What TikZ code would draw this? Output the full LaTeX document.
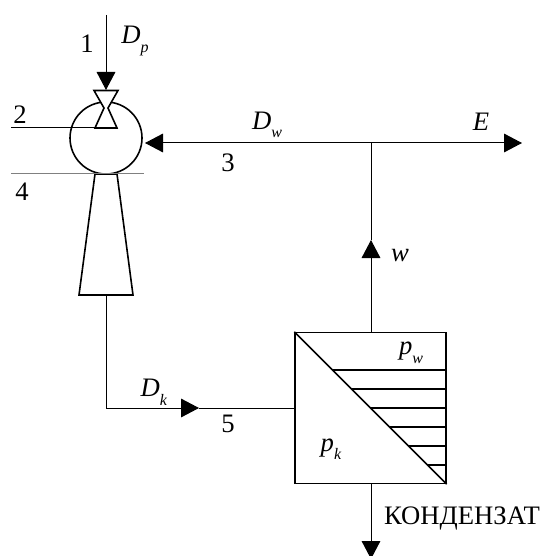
\documentclass[tikz,border=0pt]{standalone}
\usepackage{fontspec}
\setmainfont{Liberation Serif}
\usetikzlibrary{arrows.meta}
\newcommand{\flowlabel}[2]{\textit{#1}\raisebox{-0.7ex}{\fontsize{12}{12}\selectfont\textit{#2}}}

\begin{document}
\begin{tikzpicture}[x=0.75pt,y=-0.75pt,font=\fontsize{20}{22}\selectfont,
  pipe/.style={draw,line width=0.75pt},
  flow/.style={pipe,-{Triangle[length=13.5pt,width=14pt]}},
  wall/.style={draw,line width=1.2pt,fill=white},
  txt/.style={inner sep=0pt}]
  \useasboundingbox (0,0) rectangle (543,556);
  % steam inlet and mixing chamber
  \coordinate (inlet) at (106,15);
  \coordinate (throat) at (106,90);
  \coordinate (suction) at (11,128);
  \coordinate (nozzle) at (95,128);
  \coordinate (mixleft) at (11,173.5);
  \coordinate (mixright) at (144,173.5);
  \node[draw,circle,line width=1.2pt,minimum size=54pt,inner sep=0pt] (mix) at (106,138) {};
  \draw[flow] (inlet)--(throat);
  \draw[wall] (94,90.5)--(118,90.5)--(108,108)--(117,128)--(95,128)--(104,108)--cycle;
  \draw[wall] (95,174)--(117,174)--(133,295)--(79,295)--cycle;
  \coordinate (diffout) at (106,295);
  \draw[pipe] (suction)--(nozzle);
  \draw[pipe,gray,line width=1pt] (mixleft)--(mixright);
  % condenser
  \node[draw,line width=1.2pt,minimum size=113pt,inner sep=0pt] (cond) at (370.5,408) {};
  \draw[line width=1.2pt] (cond.north west)--(cond.south east);
  \foreach \y in {370,389,408,427,446,465}
    \draw[line width=1pt] (295+\y-333,\y)--(446,\y);
  % connecting lines
  \coordinate (bend) at (106,408);
  \coordinate (arrk) at (199,408);
  \coordinate (tee) at (371,143);
  \coordinate (arrw) at (371,240);
  \coordinate (west) at (145,143);
  \coordinate (east) at (522,143);
  \coordinate (drain) at (371,559);
  \draw[pipe] (diffout)--(bend);
  \draw[flow] (bend)--(arrk);
  \draw[pipe] (arrk)--(cond.west);
  \draw[flow] (tee|-cond.north)--(arrw);
  \draw[pipe] (arrw)--(tee);
  \draw[flow] (tee)--(west);
  \draw[flow] (tee)--(east);
  \draw[flow] (cond.south-|drain)--(drain);
  % labels
  \node[txt] (n1) at (87,44) {1};
  \node[txt] (n2) at (20,115) {2};
  \node[txt] (n3) at (228,163) {3};
  \node[txt] (n4) at (22,192) {4};
  \node[txt] (n5) at (228,424) {5};
  \node[txt] (dp) at (135,41) {\flowlabel{D}{p}};
  \node[txt] (dw) at (267,125) {\flowlabel{D}{w}};
  \node[txt] (dk) at (154,392) {\flowlabel{D}{k}};
  \node[txt] (e) at (481,122) {\textit{E}};
  \node[txt] (w) at (400,256) {\textit{w}};
  \node[txt] (pw) at (411,353) {\flowlabel{p}{w}};
  \node[txt] (pk) at (331,449) {\flowlabel{p}{k}};
  \node[txt] (cname) at (462,518) {КОНДЕНЗАТ};
\end{tikzpicture}
\end{document}
